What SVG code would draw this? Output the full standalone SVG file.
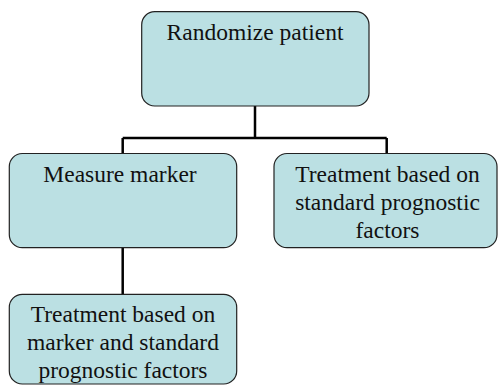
<svg xmlns="http://www.w3.org/2000/svg" width="498" height="386" viewBox="0 0 498 386">
  <style>
    .box { fill: #bbe0e3; stroke: #222; stroke-width: 1.2; }
    .lbl { font-family: "Liberation Serif", "Times New Roman", serif; font-size: 23.5px; fill: #111; text-anchor: middle; }
    .link { fill: none; stroke: #000; stroke-width: 2.5; }
  </style>
  <rect width="498" height="386" fill="#fff"/>

  <!-- connectors -->
  <g id="connectors">
    <path class="link" d="M255 106 V138 M122.7 138 H386.7 M122.7 138 V153.5 M386.7 138 V153.5"/>
    <path class="link" d="M122.7 247.7 V294.3"/>
  </g>

  <g id="randomize">
    <rect class="box" x="141.7" y="11.7" width="227.3" height="94.3" rx="13"/>
    <text class="lbl" x="255" y="40">Randomize patient</text>
  </g>

  <g id="measure">
    <rect class="box" x="9.3" y="153.5" width="227.4" height="94.2" rx="13"/>
    <text class="lbl" x="120" y="181.5">Measure marker</text>
  </g>

  <g id="standard">
    <rect class="box" x="274" y="153.5" width="223" height="94.2" rx="13"/>
    <text class="lbl" x="387.5" y="181.5">Treatment based on</text>
    <text class="lbl" x="387.5" y="209.5">standard prognostic</text>
    <text class="lbl" x="387.5" y="237.5">factors</text>
  </g>

  <g id="marker-treatment">
    <rect class="box" x="9.3" y="294.3" width="227.4" height="89.7" rx="13"/>
    <text class="lbl" x="123" y="321.7">Treatment based on</text>
    <text class="lbl" x="123" y="350">marker and standard</text>
    <text class="lbl" x="123" y="378.3">prognostic factors</text>
  </g>
</svg>
